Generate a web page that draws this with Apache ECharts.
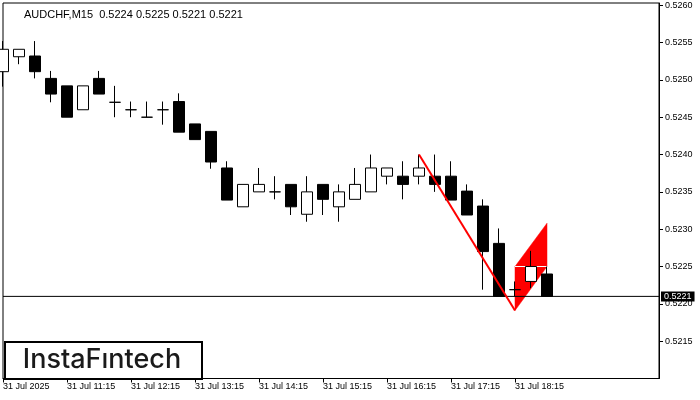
<!DOCTYPE html>
<html><head><meta charset="utf-8">
<script src="https://cdn.jsdelivr.net/npm/echarts@6/dist/echarts.min.js"></script>
<style>html,body{margin:0;padding:0;background:#fff}#c{width:700px;height:400px}</style>
</head><body><div id="c"></div>
<script>
const categories = ['10:15','10:30','10:45','11:00','11:15','11:30','11:45','12:00','12:15','12:30','12:45','13:00',
  '13:15','13:30','13:45','14:00','14:15','14:30','14:45','15:00','15:15','15:30','15:45','16:00',
  '16:15','16:30','16:45','17:00','17:15','17:30','17:45','18:00','18:15','18:30','18:45'];
const opens  = [0.52511,0.52531,0.52532,0.52502,0.52492,0.52460,0.52502,0.52470,0.52460,0.52450,0.52460,0.52471,
  0.52441,0.52431,0.52382,0.52330,0.52350,0.52350,0.52360,0.52320,0.52360,0.52330,0.52340,0.52350,
  0.52371,0.52371,0.52371,0.52371,0.52371,0.52351,0.52331,0.52281,0.52219,0.52230,0.52240];
const closes = [0.52541,0.52541,0.52511,0.52481,0.52450,0.52492,0.52481,0.52470,0.52460,0.52450,0.52460,0.52430,
  0.52420,0.52390,0.52339,0.52360,0.52360,0.52350,0.52330,0.52350,0.52340,0.52350,0.52360,0.52382,
  0.52382,0.52360,0.52382,0.52360,0.52339,0.52319,0.52270,0.52210,0.52219,0.52250,0.52210];
const lows   = [0.52491,0.52521,0.52502,0.52470,0.52450,0.52460,0.52481,0.52450,0.52450,0.52450,0.52440,0.52430,
  0.52420,0.52381,0.52339,0.52330,0.52350,0.52340,0.52319,0.52310,0.52319,0.52310,0.52340,0.52350,
  0.52360,0.52340,0.52360,0.52350,0.52339,0.52319,0.52219,0.52210,0.52210,0.52221,0.52210];
const highs  = [0.52552,0.52541,0.52552,0.52512,0.52492,0.52492,0.52512,0.52492,0.52471,0.52471,0.52471,0.52482,
  0.52441,0.52431,0.52391,0.52360,0.52382,0.52371,0.52360,0.52371,0.52360,0.52360,0.52382,0.52400,
  0.52382,0.52391,0.52400,0.52400,0.52391,0.52360,0.52340,0.52301,0.52230,0.52271,0.52250];
const tickLabels = ['31 Jul 2025','31 Jul 11:15','31 Jul 12:15','31 Jul 13:15','31 Jul 14:15',
  '31 Jul 15:15','31 Jul 16:15','31 Jul 17:15','31 Jul 18:15'];
const emptySlots = 7;
const poleX = [26, 32];
const poleY = [0.52400, 0.52191];
const flagX = [32, 32, 34, 34];
const flagY = [0.52191, 0.52250, 0.52308, 0.52250];
const flagMidY = 0.52250;
const lastPrice = 0.5221;
const yMin = 0.5210, yMax = 0.52603, yStep = 0.0005;
const titleText = 'AUDCHF,M15  0.5224 0.5225 0.5221 0.5221';
const logoText = 'InstaF\u0131ntech';

const allCats = categories.concat(new Array(emptySlots).fill(''));
const candleData = categories.map((c, i) => [opens[i], closes[i], lows[i], highs[i]]);
const FONT = 'Liberation Sans';

const chart = echarts.init(document.getElementById('c'), null, {renderer: 'canvas'});
chart.setOption({
  animation: false,
  backgroundColor: '#fff',
  title: {
    text: titleText, left: 19, top: 4,
    textStyle: {fontSize: 11, fontWeight: 'normal', color: '#000', fontFamily: FONT}
  },
  grid: {left: 3, right: 41, top: 3, bottom: 21.5, show: true, borderColor: '#000', borderWidth: 1, backgroundColor: 'transparent'},
  xAxis: {
    type: 'category', data: allCats, boundaryGap: false,
    axisLine: {show: true, lineStyle: {color: '#000', width: 1}},
    axisTick: {show: true, length: 4, lineStyle: {color: '#000'},
      interval: (idx) => idx % 4 === 0 && idx / 4 < tickLabels.length},
    axisLabel: {
      interval: (idx) => idx % 4 === 0 && idx / 4 < tickLabels.length,
      formatter: (v, idx) => tickLabels[idx / 4] || '',
      align: 'left', margin: 4, fontSize: 9, color: '#000', fontFamily: FONT
    },
    splitLine: {show: false}
  },
  yAxis: {
    type: 'value', position: 'right', min: yMin, max: yMax, interval: yStep, scale: true,
    axisLine: {show: true, lineStyle: {color: '#000'}},
    axisTick: {show: true, length: 4, lineStyle: {color: '#000'}},
    axisLabel: {showMinLabel: false, showMaxLabel: false, margin: 6, fontSize: 9, color: '#000', fontFamily: FONT,
      formatter: (v) => v.toFixed(4)},
    splitLine: {show: false}
  },
  series: [
    {
      type: 'custom', z: 1, silent: true,
      data: [[flagX[0], flagY[0]]],
      renderItem: (params, api) => {
        const pts = flagX.map((x, i) => api.coord([x, flagY[i]]));
        const a = api.coord([flagX[0], flagMidY]);
        const b = api.coord([flagX[2], flagMidY]);
        return {type: 'group', children: [
          {type: 'polygon', shape: {points: pts}, style: {fill: '#ff0000', stroke: '#ff0000', lineWidth: 0.5}},
          {type: 'line', shape: {x1: a[0], y1: a[1], x2: b[0], y2: b[1]}, style: {stroke: '#fff', lineWidth: 1}}
        ]};
      }
    },
    {
      type: 'line', z: 2, symbol: 'none', silent: true, clip: false,
      data: [[0, lastPrice], [allCats.length - 1, lastPrice]],
      lineStyle: {color: '#000', width: 1},
      endLabel: {show: true, distance: 2, formatter: () => lastPrice.toFixed(4), color: '#fff', backgroundColor: '#000',
        padding: [1, 3, 0, 3], fontSize: 9, fontFamily: FONT}
    },
    {
      type: 'candlestick', z: 3, barWidth: 11,
      data: candleData,
      itemStyle: {color: '#fff', color0: '#000', borderColor: '#000', borderColor0: '#000', borderWidth: 1}
    },
    {
      type: 'line', z: 4, symbol: 'none', silent: true,
      data: poleX.map((x, i) => [x, poleY[i]]),
      lineStyle: {color: '#ff0000', width: 2}
    }
  ],
  graphic: [
    {type: 'rect', left: 4, top: 341, shape: {width: 197, height: 37},
      style: {fill: '#fff', stroke: '#000', lineWidth: 2}, z: 100},
    {type: 'text', x: 102, y: 360,
      style: {text: logoText, font: '500 27px Inter', fill: '#1a1a1a', textAlign: 'center', textVerticalAlign: 'middle'}, z: 101}
  ]
});
</script></body></html>
